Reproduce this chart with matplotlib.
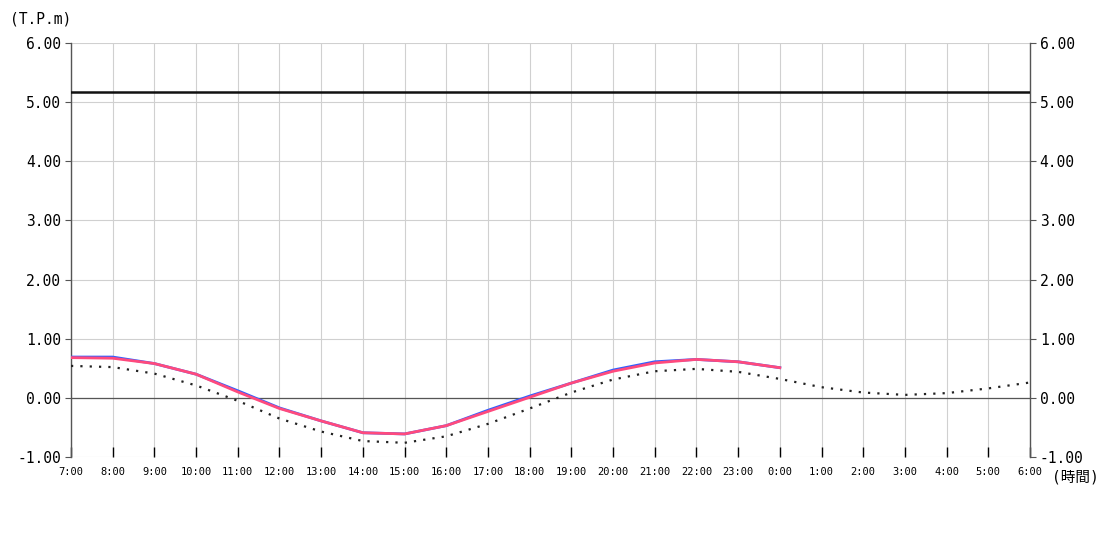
import matplotlib
matplotlib.use("Agg")
import matplotlib.pyplot as plt

# Font: monospace with CJK fallback for the unit label
plt.rcParams['font.family'] = ['DejaVu Sans Mono', 'Noto Sans CJK JP']

# Hour labels from 7:00 to 6:00 next day
hour_labels = ["7:00", "8:00", "9:00", "10:00", "11:00", "12:00", "13:00", "14:00",
               "15:00", "16:00", "17:00", "18:00", "19:00", "20:00", "21:00", "22:00",
               "23:00", "0:00", "1:00", "2:00", "3:00", "4:00", "5:00", "6:00"]

# Observed level (blue) and corrected level (red), 7:00 - 0:00
observed = [0.69, 0.69, 0.58, 0.40, 0.12, -0.17, -0.39, -0.59, -0.61, -0.47,
            -0.21, 0.03, 0.25, 0.47, 0.61, 0.65, 0.61, 0.51]
corrected = [0.68, 0.67, 0.58, 0.40, 0.10, -0.18, -0.39, -0.59, -0.61, -0.47,
             -0.23, 0.01, 0.25, 0.45, 0.59, 0.65, 0.61, 0.51]

# Astronomical tide (dotted), 7:00 - 6:00
astro = [0.54, 0.52, 0.41, 0.21, -0.05, -0.35, -0.57, -0.73, -0.76, -0.65,
         -0.44, -0.18, 0.09, 0.31, 0.45, 0.49, 0.44, 0.32, 0.18, 0.09,
         0.05, 0.08, 0.16, 0.26]

# Warning level
warning_level = 5.17

y_ticks = [-1, 0, 1, 2, 3, 4, 5, 6]

fig = plt.figure(figsize=(11, 5.5), dpi=100)
ax = fig.add_axes([71 / 1100, 1 - 457 / 550, 959 / 1100, 414 / 550])

x_all = list(range(len(hour_labels)))
x_obs = list(range(len(observed)))

ax.axhline(warning_level, color="#111111", lw=1.8, zorder=4)
ax.axhline(0, color="#555555", lw=0.9, zorder=2)

ax.plot(x_all, astro, color="#222222", lw=1.6, linestyle=(0, (1, 3.2)), zorder=3)
ax.plot(x_obs, observed, color="#3060ff", lw=2.0, zorder=4)
ax.plot(x_obs, corrected, color="#ff4a7d", lw=2.0, zorder=5)

ax.set_xlim(0, len(hour_labels) - 1)
ax.set_ylim(-1, 6)

ax.set_xticks(x_all)
ax.set_xticklabels(hour_labels, fontsize=7.5)
ax.tick_params(axis="x", direction="in", length=7, width=1, color="black", pad=7)

ax.set_yticks(y_ticks)
ax.set_yticklabels(["%.2f" % v for v in y_ticks], fontsize=10.5)
ax.tick_params(axis="y", direction="out", length=4, width=0.8, color="#555555",
               labelleft=True, labelright=True, left=True, right=True, pad=3)

ax.grid(True, color="#d0d0d0", lw=0.8, zorder=0)
ax.set_axisbelow(True)

for side in ["left", "right"]:
    ax.spines[side].set_color("#555555")
    ax.spines[side].set_linewidth(1.0)
for side in ["top", "bottom"]:
    ax.spines[side].set_visible(False)

fig.text(10 / 1100, 1 - 19 / 550, "(T.P.m)", fontsize=10.5, va="center", ha="left")
fig.text(1052 / 1100, 1 - 477 / 550, "(時間)", fontsize=10.5, va="center", ha="left",
         family=['DejaVu Sans Mono', 'Noto Sans CJK JP'])

fig.savefig("out.png", dpi=100)
